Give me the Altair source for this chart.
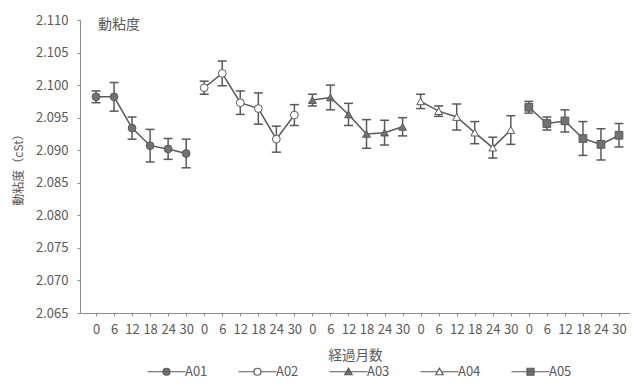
import altair as alt
import pandas as pd

months = [0, 6, 12, 18, 24, 30]
series = ["A01", "A02", "A03", "A04", "A05"]
means = {
    "A01": [2.0982, 2.0982, 2.0934, 2.0907, 2.0902, 2.0895],
    "A02": [2.0996, 2.1018, 2.0973, 2.0964, 2.0917, 2.0954],
    "A03": [2.0977, 2.0981, 2.0955, 2.0925, 2.0927, 2.0936],
    "A04": [2.0975, 2.0960, 2.0951, 2.0927, 2.0904, 2.0931],
    "A05": [2.0966, 2.0941, 2.0945, 2.0918, 2.0909, 2.0923],
}
errs = {
    "A01": [0.0009, 0.0022, 0.0017, 0.0025, 0.0016, 0.0022],
    "A02": [0.0010, 0.0019, 0.0018, 0.0024, 0.0020, 0.0016],
    "A03": [0.0009, 0.0019, 0.0017, 0.0022, 0.0019, 0.0014],
    "A04": [0.0011, 0.0008, 0.0020, 0.0017, 0.0016, 0.0022],
    "A05": [0.0009, 0.0010, 0.0017, 0.0026, 0.0024, 0.0018],
}
y_ticks = [2.065, 2.070, 2.075, 2.080, 2.085, 2.090, 2.095, 2.100, 2.105, 2.110]
title_text = "動粘度"
x_title = "経過月数"
y_title = "動粘度（cSt）"

rows = []
for si, s in enumerate(series):
    for mi, m in enumerate(months):
        v = means[s][mi]
        e = errs[s][mi]
        rows.append(dict(series=s, month=m, idx=si * len(months) + mi,
                         v=v, lo=v - e, hi=v + e))
df = pd.DataFrame(rows)

FONT = "Noto Sans CJK JP"
TXT = "#595959"
LINE = "#595959"
AX = "#8c8c8c"
fills = ["#727272", "#ffffff", "#727272", "#ffffff", "#727272"]
shapes = ["circle", "circle", "triangle-up", "triangle-up", "square"]
legend_paths = [
    "M-3.8,0H3.8M0.7,0A0.7,0.7,0,1,1,-0.7,0A0.7,0.7,0,1,1,0.7,0Z",
    "M-3.8,0H-0.7M0.7,0H3.8M0.7,0A0.7,0.7,0,1,1,-0.7,0A0.7,0.7,0,1,1,0.7,0Z",
    "M-3.8,0H3.8M0,-0.7L0.75,0.6L-0.75,0.6Z",
    "M-3.8,0H-0.38M0.38,0H3.8M0,-0.7L0.75,0.6L-0.75,0.6Z",
    "M-3.8,0H3.8M-0.7,-0.7H0.7V0.7H-0.7Z",
]

n = len(df)
x_axis = alt.Axis(
    values=list(range(n)),
    labelExpr=f"{months}[datum.value % {len(months)}]",
    tickSize=3, labelPadding=7, labelOverlap=False, labelFlush=False,
    labelBound=False, title=x_title, titlePadding=12, titleFontSize=13.5,
)
x_enc = alt.X("idx:Q", scale=alt.Scale(domain=[-0.887, n - 1 + 0.61], nice=False, zero=False),
              axis=x_axis)
y_scale = alt.Scale(domain=[y_ticks[0], y_ticks[-1]], nice=False, zero=False)
y_axis = alt.Axis(values=y_ticks, format=".3f", tickSize=3, labelPadding=9,
                  labelOverlap=False, labelFlush=False,
                  title=y_title, titlePadding=10, titleFontSize=12)
y_enc = alt.Y("v:Q", scale=y_scale, axis=y_axis)
y_lo = alt.Y("lo:Q", scale=y_scale, axis=y_axis)
y_hi = alt.Y("hi:Q", scale=y_scale, axis=y_axis)
fill_scale = alt.Scale(domain=series, range=fills)

base = alt.Chart(df)

line = base.mark_line(color=LINE, strokeWidth=1.5).encode(x=x_enc, y=y_enc, detail="series:N")
rule = base.mark_rule(color=LINE, strokeWidth=1.5).encode(x=x_enc, y=y_lo, y2="hi:Q")
cap_lo = base.mark_tick(orient="horizontal", size=9, thickness=1.5, color=LINE, opacity=1).encode(x=x_enc, y=y_lo)
cap_hi = base.mark_tick(orient="horizontal", size=9, thickness=1.5, color=LINE, opacity=1).encode(x=x_enc, y=y_hi)

point_layers = []
for shp in dict.fromkeys(shapes):
    members = [s for s, sh in zip(series, shapes) if sh == shp]
    point_layers.append(
        base.transform_filter(alt.FieldOneOfPredicate(field="series", oneOf=members))
        .mark_point(shape=shp, size=60, stroke=LINE, strokeWidth=1, opacity=1)
        .encode(x=x_enc, y=y_enc,
                fill=alt.Fill("series:N", scale=fill_scale, legend=None))
    )

leg = alt.Legend(
    title=None, orient="none", legendX=66, legendY=345, direction="horizontal",
    labelFont=FONT, labelFontSize=13, labelColor=TXT, symbolSize=100,
    symbolStrokeWidth=1.2, symbolStrokeColor=LINE, symbolOpacity=1,
    symbolOffset=14, labelOffset=12, columnPadding=28, padding=0,
)
legend_layer = base.mark_point(size=100, stroke=LINE, strokeWidth=1.2, opacity=0).encode(
    x=x_enc, y=y_enc,
    shape=alt.Shape("series:N", scale=alt.Scale(domain=series, range=legend_paths), legend=leg),
    fill=alt.Fill("series:N", scale=fill_scale, legend=leg),
    stroke=alt.Stroke("series:N", scale=alt.Scale(domain=series, range=[LINE] * len(series)), legend=leg),
)

title_layer = alt.Chart(pd.DataFrame({"t": [title_text]})).mark_text(
    align="left", baseline="middle", font=FONT, fontSize=14, color=TXT
).encode(x=alt.value(18), y=alt.value(5), text="t:N")

chart = (
    alt.layer(legend_layer, line, rule, cap_lo, cap_hi, *point_layers, title_layer)
    .properties(
        width=550, height=293,
        autosize=alt.AutoSizeParams(type="none"),
        padding={"left": 72, "top": 12, "right": 0, "bottom": 70},
    )
    .configure_view(stroke=None)
    .configure_axis(
        labelFont=FONT, titleFont=FONT, labelColor=TXT, titleColor=TXT,
        domainColor=AX, tickColor=AX, grid=False, labelFontSize=13,
        titleFontWeight="normal", labelOverlap=False,
    )
)

chart.save("out.html", embed_options={"renderer": "svg", "actions": False})
